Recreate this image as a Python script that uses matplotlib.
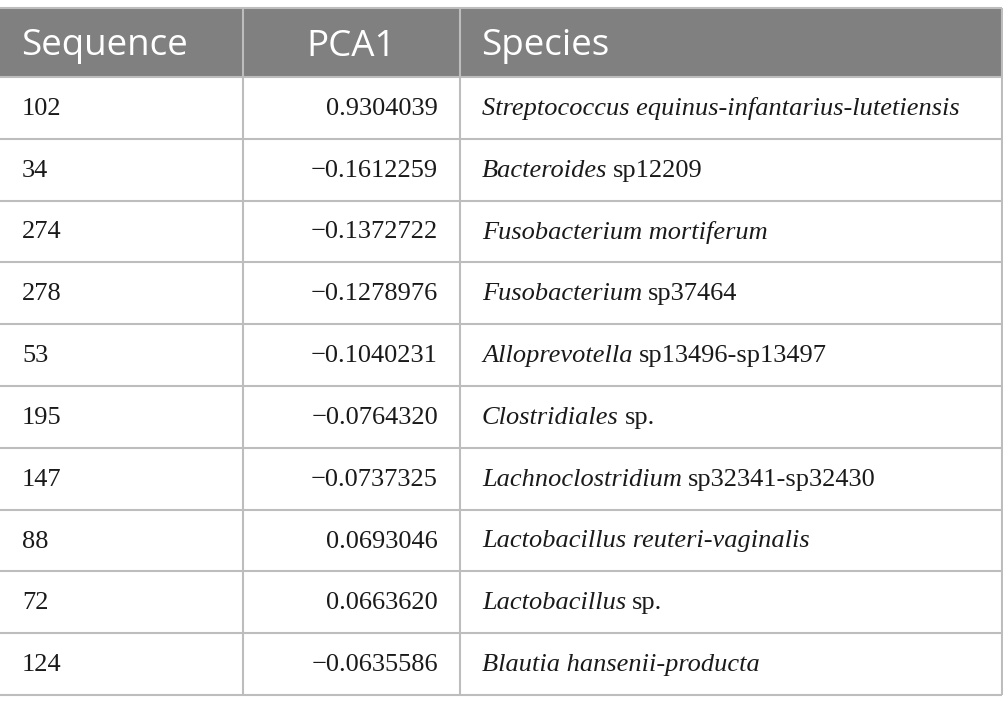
import matplotlib
matplotlib.use("Agg")
import matplotlib.pyplot as plt
from matplotlib.patches import Rectangle

# table data
headers = ["Sequence", "PCA1", "Species"]
sequences = [102, 34, 274, 278, 53, 195, 147, 88, 72, 124]
pca1 = [0.9304039, -0.1612259, -0.1372722, -0.1278976, -0.1040231,
        -0.0764320, -0.0737325, 0.0693046, 0.0663620, -0.0635586]
species_italic = ["Streptococcus equinus-infantarius-lutetiensis", "Bacteroides",
                  "Fusobacterium mortiferum", "Fusobacterium", "Alloprevotella",
                  "Clostridiales", "Lachnoclostridium", "Lactobacillus reuteri-vaginalis",
                  "Lactobacillus", "Blautia hansenii-producta"]
species_roman = ["", "sp12209", "", "sp37464", "sp13496-sp13497", "sp.",
                 "sp32341-sp32430", "", "sp.", ""]

W, H = 1004, 712
fig = plt.figure(figsize=(W / 100, H / 100), dpi=100)
ax = fig.add_axes([0, 0, 1, 1])
ax.set_xlim(0, W)
ax.set_ylim(H, 0)
ax.axis("off")

grid = "#bdbdbd"
head_bg = "#808080"
col_x = [0, 243, 460, 1002]
top, head_bot = 8, 77
row_h = (695 - head_bot) / len(sequences)
bottom = head_bot + row_h * len(sequences)

ax.add_patch(Rectangle((0, top), col_x[-1], head_bot - top, facecolor=head_bg, edgecolor="none"))

# horizontal lines
ys = [top, head_bot] + [head_bot + row_h * (i + 1) for i in range(len(sequences))]
for y in ys:
    ax.plot([0, col_x[-1]], [y, y], color=grid, lw=1.5, solid_capstyle="butt")
for x in col_x[1:]:
    ax.plot([x, x], [top, bottom], color=grid, lw=1.5, solid_capstyle="butt")

# header
hfont = dict(family="Open Sans", size=26.5, color="white", va="center")
hy = (top + head_bot) / 2 + 4
ax.text(21, hy, headers[0], ha="left", **hfont)
ax.text((col_x[1] + col_x[2]) / 2, hy, headers[1], ha="center", **hfont)
ax.text(481, hy, headers[2], ha="left", **hfont)

bfont = dict(family="Liberation Serif", size=19, color="#1a1a1a", va="center")
fig.canvas.draw()
renderer = fig.canvas.get_renderer()
for i in range(len(sequences)):
    y = head_bot + row_h * (i + 0.5) + 1
    ax.text(22, y, str(sequences[i]), ha="left", **bfont)
    ax.text(438, y, f"{pca1[i]:.7f}".replace("-", "\u2212"), ha="right", **bfont)
    t = ax.text(482, y, species_italic[i], ha="left", style="italic", **bfont)
    if species_roman[i]:
        bb = t.get_window_extent(renderer=renderer)
        x_end = ax.transData.inverted().transform((bb.x1, bb.y0))[0]
        ax.text(x_end + 6, y, species_roman[i], ha="left", **bfont)

fig.savefig("out.png", dpi=100)
